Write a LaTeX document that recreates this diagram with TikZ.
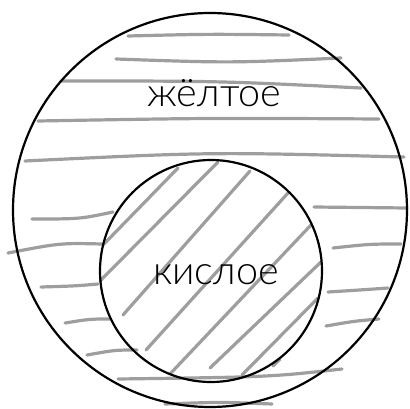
\documentclass[tikz,border=0pt]{standalone}
\usepackage{fontspec}
\setmainfont{Lato}[UprightFont={* Light}]
\usepackage{tikz}
\usetikzlibrary{positioning}
\definecolor{pencil}{RGB}{158,158,158}

\begin{document}
\begin{tikzpicture}[x=1pt, y=-1pt, every node/.style={font=\fontsize{39.5}{42}\selectfont, inner sep=0pt}]
    \useasboundingbox (0,0) rectangle (410,409);
    \tikzset{
        stroke/.style={pencil, line width=3.2pt, line cap=round},
        ring/.style={black, line width=2.2pt}
    }

    % horizontal strokes in the outer ring
    \foreach \xa/\ya/\xb/\yb/\xc/\yc in {128/36/208/34/289/35, 116/59/230/63/341/58, 61/81/220/81/361/88,
        38/121/210/118/379/119, 25/161/210/152/404/157, 32/219/80/219/113/212, 8/253/60/243/102/244,
        41/287/75/286/98/284, 65/323/90/319/110/319, 87/355/115/350/137/350, 118/379/270/377/342/369,
        165/404/220/402/272/404, 314/207/360/207/407/208, 333/248/370/244/401/244,
        328/292/360/290/388/288, 326/326/355/321/379/319} {
        \draw[stroke] (\xa,\ya) .. controls (\xb,\yb) .. (\xc,\yc);
    }

    % diagonal strokes in the inner circle
    \foreach \xa/\ya/\xb/\yb in {103/245/178/168, 100/281/218/162, 123/315/250/171, 146/350/288/193,
        170/374/311/225, 210/368/321/262, 242/375/318/298, 273/366/280/359} {
        \draw[stroke] (\xa,\ya) -- (\xb,\yb);
    }

    \draw[ring] (210,210) circle (197);
    \draw[ring] (211,271) circle (111);

    \node[anchor=base] (yellow) at (214.5,107) {жёлтое};
    \node[anchor=base] (sour) at (216,284) {кислое};
\end{tikzpicture}
\end{document}
